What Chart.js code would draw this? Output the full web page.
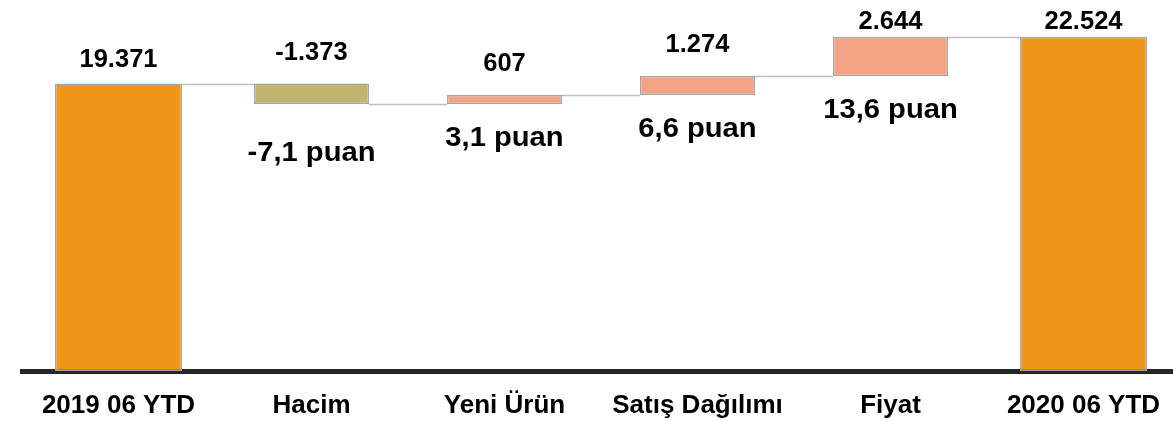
<!DOCTYPE html>
<html lang="tr">
<head>
<meta charset="utf-8">
<title>Satış Köprüsü 2019-2020</title>
<script src="https://cdn.jsdelivr.net/npm/chart.js@4.4.1/dist/chart.umd.min.js"></script>
<style>
    html, body { margin: 0; padding: 0; background: #fff; overflow: hidden; }
    #wrap { width: 1180px; height: 421px; }
</style>
</head>
<body>
<div id="wrap"><canvas id="bridge" width="1180" height="421"></canvas></div>
<script>
/* ---------- veri ---------- */
const categories = ["2019 06 YTD", "Hacim", "Yeni Ürün", "Satış Dağılımı", "Fiyat", "2020 06 YTD"];
const startTotal = 19371;
const endTotal = 22524;
const changes = [-1373, 607, 1274, 2644];
const puanLabels = ["-7,1 puan", "3,1 puan", "6,6 puan", "13,6 puan"];

/* ---------- renkler ---------- */
const totalColor = "#F0961A";
const upColor = "#F4A384";
const downColor = "#C2B46E";
const edgeColor = "#A6A6A6";
const connectorColor = "#BFBFBF";
const FONT = "'Liberation Sans', Arial, sans-serif";

/* ---------- köprü hesabı ---------- */
const totals = categories.map((c, i) => i === 0 ? startTotal : (i === categories.length - 1 ? endTotal : null));
const floating = [null];
const levels = [startTotal];
let running = startTotal;
changes.forEach(c => {
    floating.push([running, running + c]);
    running += c;
    levels.push(running);
});
floating.push(null);
const changeColors = [null, ...changes.map(c => c < 0 ? downColor : upColor), null];

function fmt(n) {
    const s = Math.abs(n).toString().replace(/\B(?=(\d{3})+(?!\d))/g, ".");
    return (n < 0 ? "-" : "") + s;
}
const valueTexts = [fmt(startTotal), ...changes.map(fmt), fmt(endTotal)];

/* ---------- etiketler ve bağlantı çizgileri ---------- */
function barAt(chart, i) {
    const meta = chart.getDatasetMeta(totals[i] !== null ? 0 : 1);
    return meta.data[i];
}

// yazıyı biraz yatay genişleterek çiz (orijinaldeki gibi)
function wideText(ctx, text, x, y, stretch) {
    ctx.save();
    ctx.translate(x, y);
    ctx.scale(stretch, 1);
    ctx.fillText(text, 0, 0);
    ctx.restore();
}

const bridgePlugin = {
    id: "bridge",
    beforeDatasetsDraw(chart) {
        const ctx = chart.ctx;
        const y = chart.scales.y;
        ctx.save();
        ctx.strokeStyle = connectorColor;
        ctx.lineWidth = 1.5;
        for (let i = 0; i < categories.length - 1; i++) {
            const a = barAt(chart, i), b = barAt(chart, i + 1);
            const py = Math.round(y.getPixelForValue(levels[Math.min(i, levels.length - 1)])) + 0.5;
            ctx.beginPath();
            ctx.moveTo(a.x + a.width / 2, py);
            ctx.lineTo(b.x - b.width / 2, py);
            ctx.stroke();
        }
        ctx.restore();
    },
    afterDatasetsDraw(chart) {
        const ctx = chart.ctx;
        ctx.save();
        ctx.fillStyle = "#000";
        ctx.textAlign = "center";
        ctx.textBaseline = "alphabetic";
        categories.forEach((c, i) => {
            const el = barAt(chart, i);
            const top = Math.min(el.y, el.base);
            const bottom = Math.max(el.y, el.base);
            const isTotal = totals[i] !== null;
            ctx.font = "bold 25px " + FONT;
            wideText(ctx, valueTexts[i], el.x, Math.max(top - (isTotal ? 17 : 24), 29), 1.02);
            if (!isTotal) {
                const k = i - 1;
                ctx.font = "bold 27px " + FONT;
                wideText(ctx, puanLabels[k], el.x, bottom + 42 + (changes[k] < 0 ? 15 : 0), 1.08);
            }
        });
        ctx.restore();
    }
};

/* ---------- grafik ---------- */
new Chart(document.getElementById("bridge"), {
    type: "bar",
    data: {
        labels: categories,
        datasets: [
            {
                label: "Toplam",
                data: totals,
                backgroundColor: totalColor,
                borderColor: edgeColor,
                borderWidth: 1.5,
                borderSkipped: false,
                barPercentage: 0.658,
                categoryPercentage: 1,
                grouped: false
            },
            {
                label: "Değişim",
                data: floating,
                backgroundColor: changeColors,
                borderColor: edgeColor,
                borderWidth: 1.5,
                borderSkipped: false,
                barPercentage: 0.596,
                categoryPercentage: 1,
                grouped: false
            }
        ]
    },
    options: {
        responsive: false,
        animation: false,
        layout: { padding: { left: 22, right: 0, top: 0, bottom: 0 } },
        plugins: { legend: { display: false }, tooltip: { enabled: false } },
        scales: {
            x: {
                grid: { display: true, color: "rgba(0,0,0,0)", drawTicks: false },
                border: { display: true, color: "#262626", width: 5 },
                ticks: {
                    padding: 19,
                    color: "#000",
                    font: { family: FONT, size: 26, weight: "bold" },
                    maxRotation: 0,
                    autoSkip: false
                },
                afterFit(scale) {
                    scale.height = 50;
                }
            },
            y: {
                display: false,
                min: 0,
                max: 25000
            }
        }
    },
    plugins: [bridgePlugin]
});
</script>
</body>
</html>
